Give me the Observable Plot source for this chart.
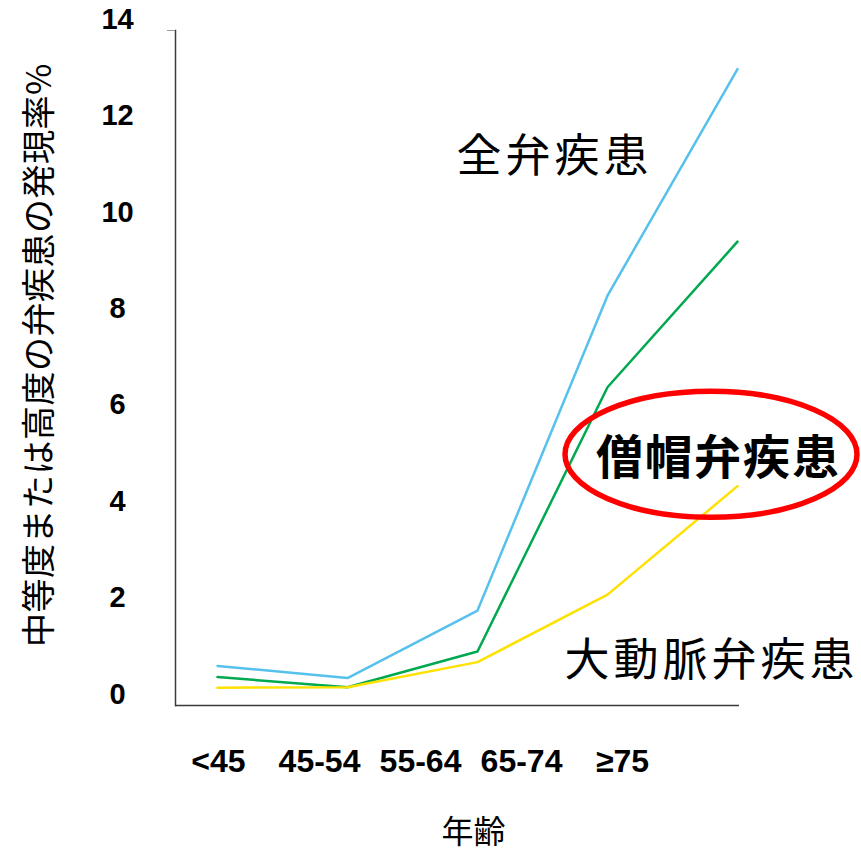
<!DOCTYPE html>
<html><head><meta charset="utf-8">
<script src="https://cdn.jsdelivr.net/npm/d3@7"></script>
<script src="https://cdn.jsdelivr.net/npm/@observablehq/plot@0.6"></script>
<style>
body{margin:0;background:#fff}
#wrap{position:relative;width:861px;height:855px;background:#fff}
#wrap svg{position:absolute;left:0;top:0}
</style></head><body><div id="wrap"></div>
<script>
const ageGroups = ["<45", "45-54", "55-64", "65-74", "≥75"];
const allValve = [0.82, 0.57, 1.97, 8.5, 13.2];
const mitral = [0.59, 0.38, 1.12, 6.6, 9.62];
const aortic = [0.37, 0.38, 0.9, 2.3, 4.55];
const yTicks = [0, 2, 4, 6, 8, 10, 12, 14];
const seriesNames = ["全弁疾患", "僧帽弁疾患", "大動脈弁疾患"];
const seriesColors = ["#56C1EC", "#00A84F", "#FFE100"];
const yLabel = "中等度または高度の弁疾患の発現率%";
const xLabel = "年齢";

const seriesValues = [allValve, mitral, aortic];
const rows = seriesNames.flatMap((s, k) => ageGroups.map((a, i) => ({age: a, v: seriesValues[k][i], s})));

const cjk = "'Noto Sans CJK JP', 'Noto Sans', sans-serif";
const num = "'Liberation Sans', Arial, sans-serif";

const main = Plot.plot({
  width: 861, height: 855,
  marginLeft: 175, marginRight: 122, marginTop: 30, marginBottom: 150,
  style: {background: "none", fontFamily: num, overflow: "visible"},
  x: {type: "point", domain: ageGroups, range: [216, 738], padding: 0, axis: null},
  y: {domain: [0, 14], axis: null},
  color: {domain: seriesNames, range: seriesColors},
  marks: [
    Plot.frame({anchor: "left", stroke: "#3a3a3a", strokeWidth: 1.5}),
    Plot.ruleY([0], {stroke: "#3a3a3a", strokeWidth: 1.5}),
    Plot.axisY({ticks: [14], tickSize: 8, tickFormat: () => "", stroke: "#999", label: null}),
    Plot.axisY({ticks: yTicks, tickSize: 0, tickPadding: 58, textAnchor: "middle", dy: -11,
      fontSize: 29, fontWeight: "bold", fill: "#000", label: null}),
    Plot.lineY(rows, {x: "age", y: "v", z: "s", stroke: "s", strokeWidth: 2.5}),
    Plot.text([seriesNames[0]], {x: () => ageGroups[3], y: () => 11.37, dx: -53, text: d => d,
      fontSize: 45, fontFamily: cjk, fill: "#000"}),
    Plot.text([seriesNames[1]], {x: () => ageGroups[4], y: () => 5.12, dx: -19, text: d => d,
      fontSize: 47, fontWeight: "bold", fontFamily: cjk, fill: "#000"}),
    Plot.text([seriesNames[2]], {x: () => ageGroups[4], y: () => 0.91, dx: -26, text: d => d,
      fontSize: 45, fontFamily: cjk, fill: "#000"}),
    (index, {x, y}) => d3.create("svg:ellipse")
      .attr("cx", x(ageGroups[4]) - 26).attr("cy", y(5.2))
      .attr("rx", 146).attr("ry", 63)
      .attr("fill", "none").attr("stroke", "#FF0000").attr("stroke-width", 5.5).node(),
    Plot.text([yLabel], {frameAnchor: "left", textAnchor: "middle", dx: -135, dy: -13, rotate: -90, text: d => d,
      fontSize: 34, fontFamily: cjk, fill: "#000"}),
    Plot.text([xLabel], {frameAnchor: "bottom", dx: 16, dy: 137, text: d => d,
      fontSize: 32, fontFamily: cjk, fill: "#000"})
  ]
});

// letter spacing for the series annotations
const spacing = {"全弁疾患": "4px", "僧帽弁疾患": "2px", "大動脈弁疾患": "4px", [yLabel]: "0.5px"};
d3.select(main).selectAll("text").each(function() {
  const t = this.textContent;
  if (spacing[t]) d3.select(this).style("letter-spacing", spacing[t]);
});

const axisPlot = Plot.plot({
  width: 861, height: 855,
  marginLeft: 0, marginRight: 0, marginTop: 0, marginBottom: 106,
  style: {background: "none", fontFamily: num},
  x: {type: "point", domain: ageGroups, range: [217, 622], padding: 0},
  marks: [
    Plot.axisX({tickSize: 0, tickPadding: 0, fontSize: 32, fontWeight: "bold", fill: "#000", label: null})
  ]
});

const wrap = document.getElementById("wrap");
wrap.append(main);
wrap.append(axisPlot);
</script></body></html>
